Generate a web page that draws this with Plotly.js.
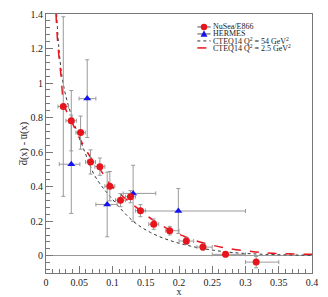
<!DOCTYPE html>
<html>
<head>
<meta charset="utf-8">
<script src="https://cdn.plot.ly/plotly-3.0.1.min.js"></script>
<style>html,body{margin:0;padding:0;background:#fff;}#chart{width:328px;height:297px;}</style>
</head>
<body>
<div id="chart"></div>
<script>
// NuSea/E866 data
const e866X = [0.026, 0.038, 0.052, 0.067, 0.081, 0.096, 0.112, 0.127, 0.142, 0.162, 0.186, 0.211, 0.236, 0.270, 0.316];
const e866Y = [0.864, 0.782, 0.713, 0.543, 0.516, 0.403, 0.322, 0.342, 0.261, 0.183, 0.145, 0.085, 0.050, 0.008, -0.037];
const e866YErr = [0.52, 0.175, 0.096, 0.07, 0.05, 0.085, 0.038, 0.035, 0.035, 0.03, 0.025, 0.02, 0.018, 0.014, 0.033];
const e866XErrPlus = [0.008, 0.008, 0.007, 0.0075, 0.0075, 0.0075, 0.0075, 0.0075, 0.0075, 0.0075, 0.014, 0.011, 0.014, 0.030, 0.034];
const e866XErrMinus = [0.008, 0.008, 0.007, 0.0075, 0.0075, 0.0075, 0.0075, 0.0075, 0.0075, 0.0075, 0.006, 0.011, 0.009, 0.020, 0.016];

// HERMES data
const hermesX = [0.038, 0.062, 0.092, 0.131, 0.199];
const hermesY = [0.53, 0.91, 0.297, 0.361, 0.259];
const hermesYErr = [0.285, 0.225, 0.187, 0.163, 0.13];
const hermesXErrPlus = [0.013, 0.013, 0.015, 0.034, 0.101];
const hermesXErrMinus = [0.018, 0.0123, 0.017, 0.015, 0.053];

// CTEQ14 Q^2 = 54 GeV^2 (dotted)
const cteq54X = [0.016, 0.019, 0.024, 0.031, 0.0437, 0.0587, 0.0738, 0.096, 0.131, 0.157, 0.185, 0.217, 0.25, 0.282, 0.33, 0.4];
const cteq54Y = [1.40, 1.22, 1.04, 0.907, 0.751, 0.597, 0.46, 0.345, 0.20, 0.135, 0.09, 0.056, 0.033, 0.018, 0.008, 0.003];

// CTEQ14 Q^2 = 2.5 GeV^2 (dashed)
const cteq25X = [0.015, 0.0176, 0.0226, 0.0276, 0.0376, 0.052, 0.067, 0.0813, 0.0963, 0.1124, 0.1275, 0.1425, 0.1617, 0.186, 0.211, 0.236, 0.27, 0.315, 0.35, 0.4];
const cteq25Y = [1.40, 1.235, 1.04, 0.87, 0.785, 0.67, 0.57, 0.50, 0.415, 0.355, 0.305, 0.26, 0.205, 0.15, 0.107, 0.075, 0.045, 0.022, 0.013, 0.008];

const legendLabels = ['NuSea/E866', 'HERMES', 'CTEQ14 Q<sup>2</sup> = 54 GeV<sup>2</sup>', 'CTEQ14 Q<sup>2</sup> = 2.5 GeV<sup>2</sup>'];

const RED = '#e8141c';
const BLUE = '#1414f0';
const ERR = '#9a9a9a';
const FONT = 'Liberation Serif, Times New Roman, serif';

const traces = [
  {x: cteq54X, y: cteq54Y, mode: 'lines', line: {color: '#333', width: 1, dash: 'dot', shape: 'spline'}, hoverinfo: 'none'},
  {x: cteq25X, y: cteq25Y, mode: 'lines', line: {color: RED, width: 1.5, dash: 'dash', shape: 'spline'}, hoverinfo: 'none'},
  {x: hermesX, y: hermesY, mode: 'markers', marker: {symbol: 'triangle-up', size: 7, color: BLUE},
   error_y: {type: 'data', array: hermesYErr, color: ERR, thickness: 1, width: 2},
   error_x: {type: 'data', array: hermesXErrPlus, arrayminus: hermesXErrMinus, color: ERR, thickness: 1, width: 2}},
  {x: e866X, y: e866Y, mode: 'markers', marker: {symbol: 'circle', size: 7, color: RED},
   error_y: {type: 'data', array: e866YErr, color: ERR, thickness: 1, width: 2},
   error_x: {type: 'data', array: e866XErrPlus, arrayminus: e866XErrMinus, color: ERR, thickness: 1, width: 2}}
];

// custom compact legend (paper coords)
const rowY = [0.950, 0.923, 0.896, 0.869];
const lx0 = 0.569, lx1 = 0.619, lxm = 0.594, ltext = 0.624;
const shapes = [
  {type: 'line', xref: 'paper', yref: 'paper', x0: lx0, x1: lx1, y0: rowY[0], y1: rowY[0], line: {color: '#555', width: 1}},
  {type: 'circle', xref: 'paper', yref: 'paper', x0: lxm - 0.012, x1: lxm + 0.012, y0: rowY[0] - 0.0125, y1: rowY[0] + 0.0125, fillcolor: RED, line: {width: 0}},
  {type: 'line', xref: 'paper', yref: 'paper', x0: lx0, x1: lx1, y0: rowY[1], y1: rowY[1], line: {color: '#555', width: 1}},
  {type: 'path', xref: 'paper', yref: 'paper', path: `M${lxm-0.013},${rowY[1]-0.011} L${lxm+0.013},${rowY[1]-0.011} L${lxm},${rowY[1]+0.014} Z`, fillcolor: BLUE, line: {width: 0}},
  {type: 'line', xref: 'paper', yref: 'paper', x0: lx0, x1: lx1, y0: rowY[2], y1: rowY[2], line: {color: '#333', width: 1, dash: 'dot'}},
  {type: 'line', xref: 'paper', yref: 'paper', x0: lx0, x1: lx1, y0: rowY[3], y1: rowY[3], line: {color: RED, width: 1.5, dash: 'dash'}}
];
const annotations = legendLabels.map((t, i) => ({
  xref: 'paper', yref: 'paper', x: ltext, y: rowY[i], xanchor: 'left', yanchor: 'middle',
  text: t, showarrow: false, borderpad: 0, font: {family: FONT, size: 8, color: '#222'}
}));

const layout = {
  width: 328, height: 297,
  margin: {l: 46, r: 16, t: 14, b: 24},
  paper_bgcolor: '#fff', plot_bgcolor: '#fff',
  showlegend: false,
  font: {family: FONT, size: 10, color: '#222'},
  xaxis: {
    range: [0, 0.4], dtick: 0.05, tick0: 0,
    ticks: 'inside', ticklen: 7, tickcolor: '#777', tickwidth: 1,
    minor: {dtick: 0.01, ticks: 'inside', ticklen: 4, tickcolor: '#777', showgrid: false},
    showline: true, mirror: true, linecolor: '#777', linewidth: 1,
    showgrid: false, zeroline: false,
    tickfont: {family: FONT, size: 10, color: '#222'},
    title: {text: 'x', font: {family: FONT, size: 10, color: '#222'}, standoff: 0}
  },
  yaxis: {
    range: [-0.1, 1.4], dtick: 0.2, tick0: 0,
    ticks: 'inside', ticklen: 7, tickcolor: '#777', tickwidth: 1,
    minor: {dtick: 0.04, ticks: 'inside', ticklen: 4, tickcolor: '#777', showgrid: false},
    showline: true, mirror: true, linecolor: '#777', linewidth: 1,
    showgrid: false, zeroline: true, zerolinecolor: '#999', zerolinewidth: 1.5,
    tickfont: {family: FONT, size: 10, color: '#222'},
    title: {text: 'd\u0305(x) - u\u0305(x)', font: {family: FONT, size: 10.5, color: '#222'}, standoff: 0}
  },
  shapes: shapes,
  annotations: annotations
};

Plotly.newPlot('chart', traces, layout, {staticPlot: true, displayModeBar: false});
</script>
</body>
</html>
